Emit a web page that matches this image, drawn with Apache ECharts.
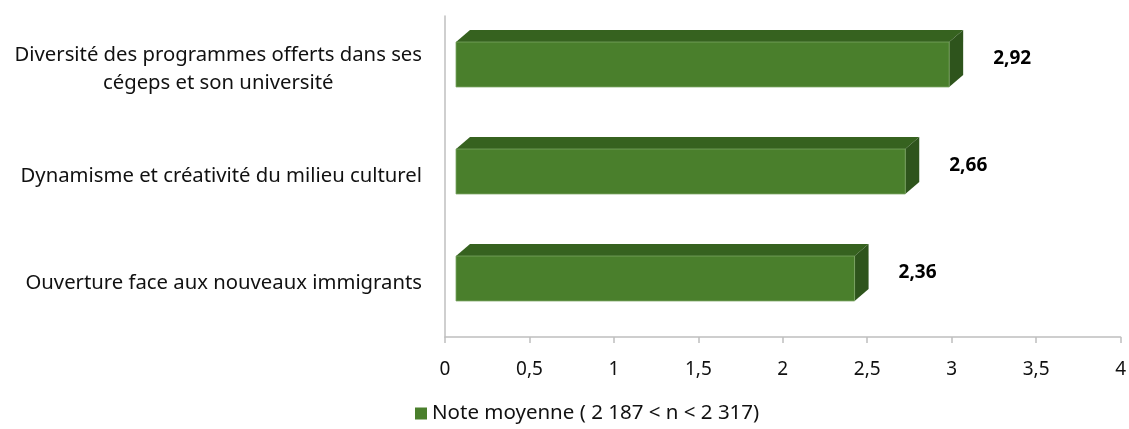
<!DOCTYPE html>
<html>
<head>
<meta charset="utf-8">
<script src="https://cdn.jsdelivr.net/npm/echarts@6/dist/echarts.min.js"></script>
<style>
	html, body { margin: 0; padding: 0; background: #fff; }
	#chart { width: 1129px; height: 429px; }
</style>
</head>
<body>
<div id="chart"></div>
<script>
	// données
	const categories = [
		'Diversité des programmes offerts dans ses\ncégeps et son université',
		'Dynamisme et créativité du milieu culturel',
		'Ouverture face aux nouveaux immigrants'
	];
	const values = [2.92, 2.66, 2.36];
	const seriesName = 'Note moyenne ( 2 187 < n < 2 317)';
	const xTicks = [0, 0.5, 1, 1.5, 2, 2.5, 3, 3.5, 4];

	const font = 'Noto Sans';
	const colFront = '#4a7f2c';
	const colTop = '#36621f';
	const colSide = '#2e541c';

	const chart = echarts.init(document.getElementById('chart'));

	// barre 3D façon Excel
	const renderBar = function (params, api) {
		const idx = api.value(0);
		const v = api.value(1);
		const p0 = api.coord([0, idx]);
		const p1 = api.coord([v, idx]);
		const band = api.size([0, 1])[1];
		const h = band * 0.42;
		const shift = 11, dx = 14, dy = -12;
		const cy = p0[1] - 5;
		const x0 = p0[0] + shift, x1 = p1[0] + shift;
		const yt = cy - h / 2, yb = cy + h / 2;
		return {
			type: 'group',
			children: [{
				type: 'polygon',
				shape: { points: [[x0, yt], [x0 + dx, yt + dy], [x1 + dx, yt + dy], [x1, yt]] },
				style: { fill: colTop }
			}, {
				type: 'polygon',
				shape: { points: [[x1, yt], [x1 + dx, yt + dy], [x1 + dx, yb + dy], [x1, yb]] },
				style: { fill: colSide }
			}, {
				type: 'rect',
				shape: { x: x0, y: yt, width: x1 - x0, height: h },
				style: { fill: colFront, stroke: '#7aa562', lineWidth: 0.8 }
			}, {
				type: 'text',
				x: p1[0] + 74,
				y: p0[1] - 11,
				style: {
					text: String(v).replace('.', ','),
					fill: '#000',
					font: 'bold 19px "' + font + '"',
					align: 'center',
					verticalAlign: 'middle'
				}
			}]
		};
	};

	const option = {
		animation: false,
		backgroundColor: '#fff',
		textStyle: { fontFamily: font },
		grid: { left: 445, right: 8, top: 16, bottom: 92, containLabel: false },
		legend: {
			bottom: 0,
			left: 410,
			icon: 'rect',
			itemWidth: 12,
			itemHeight: 12,
			itemGap: 5,
			textStyle: { fontSize: 20.5, color: '#111', fontFamily: font },
			data: [seriesName]
		},
		xAxis: {
			type: 'value',
			min: 0,
			max: 4,
			interval: 0.5,
			axisLine: { show: true, lineStyle: { color: '#bfbfbf', width: 1.5 } },
			axisTick: { show: true, length: 6, lineStyle: { color: '#bfbfbf', width: 1.5 } },
			splitLine: { show: false },
			axisLabel: {
				margin: 23,
				fontSize: 19,
				color: '#111',
				formatter: function (val) {
					return String(val).replace('.', ',');
				}
			}
		},
		yAxis: {
			type: 'category',
			inverse: true,
			data: categories,
			axisLine: { show: true, lineStyle: { color: '#bfbfbf', width: 1.5 } },
			axisTick: { show: false },
			axisLabel: {
				margin: 23,
				formatter: function (val) {
					return val.split('\n').map(function (s) { return '{a|' + s + '}'; }).join('\n');
				},
				rich: {
					a: { fontSize: 20.3, color: '#111', lineHeight: 28, align: 'center', fontFamily: font }
				}
			}
		},
		series: [{
			name: seriesName,
			type: 'custom',
			renderItem: renderBar,
			itemStyle: { color: colFront },
			encode: { x: 1, y: 0 },
			data: values.map(function (v, i) { return [i, v]; })
		}]
	};
	chart.setOption(option);
</script>
</body>
</html>
